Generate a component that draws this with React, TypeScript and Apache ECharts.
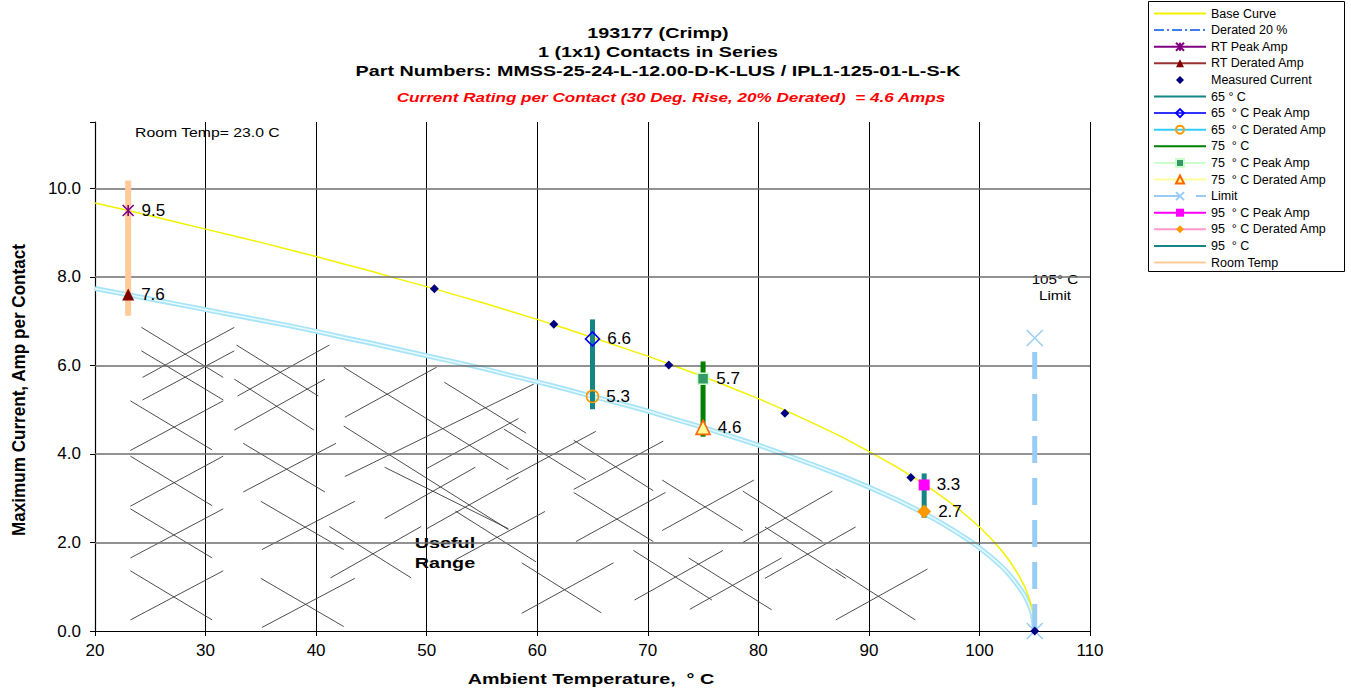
import React, { useEffect, useRef } from "react";
import * as echarts from "echarts";

const FONT = "'Liberation Sans', Arial, Helvetica, sans-serif";

// ---- data ----
const curveTemps = [20, 22.5, 25, 27.5, 30, 32.5, 35, 37.5, 40, 42.5, 45, 47.5, 50, 52.5, 55, 57.5, 60, 62.5, 65, 67.5, 70, 72.5, 75, 77.5, 80, 82.5, 85, 87.5, 90, 92.5, 95, 96.5, 98, 99, 100, 101, 102, 102.5, 103, 103.5, 104, 104.2, 104.5, 104.8, 105];
const baseCurve = [9.67, 9.53, 9.38, 9.23, 9.08, 8.93, 8.78, 8.62, 8.46, 8.29, 8.13, 7.95, 7.78, 7.6, 7.42, 7.23, 7.04, 6.84, 6.63, 6.42, 6.21, 5.98, 5.75, 5.5, 5.25, 4.98, 4.69, 4.39, 4.06, 3.71, 3.32, 3.06, 2.78, 2.57, 2.35, 2.1, 1.82, 1.66, 1.48, 1.28, 1.05, 0.94, 0.74, 0.47, 0];
const deratedCurve = [7.74, 7.62, 7.5, 7.38, 7.26, 7.14, 7.02, 6.9, 6.77, 6.63, 6.5, 6.36, 6.22, 6.08, 5.94, 5.78, 5.63, 5.47, 5.3, 5.14, 4.97, 4.78, 4.6, 4.4, 4.2, 3.98, 3.75, 3.51, 3.25, 2.97, 2.66, 2.45, 2.22, 2.06, 1.88, 1.68, 1.46, 1.33, 1.18, 1.02, 0.84, 0.75, 0.59, 0.38, 0];

const measuredTemps = [50.7, 61.5, 71.9, 82.4, 93.8, 105];
const measuredAmps = [7.73, 6.93, 6.01, 4.92, 3.47, 0];

const roomTemp = 23;
const roomRange = [7.12, 10.18];
const rtPeak = 9.5;
const rtDerated = 7.6;

const range65 = [5.01, 7.04];
const peak65 = 6.6;
const derated65 = 5.3;

const range75 = [4.39, 6.09];
const peak75 = 5.7;
const derated75 = 4.6;

const range95 = [2.56, 3.56];
const peak95 = 3.3;
const derated95 = 2.7;

const limitTemp = 105;
const limitRange = [0, 6.62];

const xTicks = { min: 20, max: 110, interval: 10 };
const yTicks = { min: 0, max: 11.5, interval: 2 };
const yGridLines = [2, 4, 6, 8, 10];

// "Useful Range" hatch strokes: [temp1, amp1, temp2, amp2]
const hatchSegments = [
  [24.2, 6.86, 31.6, 5.73], [24.3, 5.73, 32.6, 6.86],
  [24.2, 6.33, 31.6, 5.22], [24.3, 5.22, 32.6, 6.33],
  [23.2, 5.2, 30.6, 4.09], [23.2, 4.08, 31.6, 5.2],
  [23.2, 3.95, 30.6, 2.83], [23.2, 2.82, 31.6, 3.95],
  [23.2, 2.76, 30.6, 1.65], [23.2, 1.65, 31.6, 2.76],
  [23.2, 1.36, 30.6, 0.25], [23.2, 0.25, 31.6, 1.36],
  [32.8, 6.46, 40.2, 5.31], [32.9, 5.31, 41.2, 6.46],
  [32.6, 5.69, 39.8, 4.54], [32.6, 4.54, 40.8, 5.69],
  [33.4, 4.24, 40.8, 3.14], [33.4, 3.14, 41.8, 4.24],
  [35.0, 2.93, 42.5, 1.84], [35.1, 1.84, 43.5, 2.93],
  [35.0, 1.19, 42.5, 0.1], [35.1, 0.08, 43.5, 1.19],
  [42.5, 5.96, 57.4, 3.65], [42.6, 4.83, 50.9, 5.96],
  [42.5, 4.63, 57.4, 2.29], [42.6, 3.49, 59.7, 5.58],
  [51.6, 5.62, 59.0, 4.47], [50.0, 3.67, 58.3, 4.8],
  [46.2, 3.7, 57.4, 2.31], [46.2, 2.54, 54.4, 3.7],
  [50.0, 2.31, 58.3, 3.47], [52.6, 2.71, 59.9, 1.56],
  [57.0, 4.56, 64.4, 3.42], [57.2, 3.42, 65.3, 4.51],
  [63.3, 4.31, 70.5, 3.17], [63.3, 3.2, 71.4, 4.29],
  [63.3, 3.13, 70.5, 2.02], [63.5, 2.02, 71.6, 3.13],
  [41.2, 2.36, 48.6, 1.2], [41.3, 1.2, 49.5, 2.36],
  [52.6, 1.61, 60.7, 2.7],
  [58.6, 1.54, 65.8, 0.41], [58.6, 0.4, 66.9, 1.54],
  [71.3, 3.41, 78.6, 2.27], [71.3, 2.27, 79.6, 3.41],
  [78.6, 3.16, 85.8, 2.02], [78.6, 2.0, 86.7, 3.16],
  [80.6, 2.35, 87.9, 1.19], [80.6, 1.19, 88.8, 2.35],
  [68.7, 1.82, 75.8, 0.7], [68.8, 0.7, 76.8, 1.82],
  [73.7, 1.65, 81.2, 0.48], [73.8, 0.49, 82.1, 1.65],
  [87.0, 1.4, 94.2, 0.25], [87.0, 0.25, 95.3, 1.4],
];

const legendNames = [
  "Base Curve",
  "Derated 20 %",
  "RT Peak Amp",
  "RT Derated Amp",
  "Measured Current",
  "65 ° C",
  "65  ° C Peak Amp",
  "65  ° C Derated Amp",
  "75  ° C",
  "75  ° C Peak Amp",
  "75  ° C Derated Amp",
  "Limit",
  "95  ° C Peak Amp",
  "95  ° C Derated Amp",
  "95  ° C",
  "Room Temp",
];

const titleLines = [
  "193177 (Crimp)",
  "1 (1x1) Contacts in Series",
  "Part Numbers: MMSS-25-24-L-12.00-D-K-LUS / IPL1-125-01-L-S-K",
];
const subTitle = "Current Rating per Contact (30 Deg. Rise, 20% Derated)  = 4.6 Amps";

const ASTERISK = "path://M0 0L10 10M10 0L0 10M5 0L5 10";
const XMARK = "path://M0 0L10 10M10 0L0 10";

const curve = (vals: number[]) => curveTemps.map((t, i) => [t, vals[i]]);
const HIDDEN_ITEM = { color: "rgba(0,0,0,0)", opacity: 0 };

const pointLabel = {
  show: true,
  position: "right",
  distance: 7,
  fontSize: 17,
  color: "#000",
  fontFamily: FONT,
  formatter: (p: any) => Number(p.value[1]).toFixed(1),
};

function pointSeries(name: string, x: number, y: number, lineColor: string, symbol: string, size: number, itemStyle: any, lineWidth = 1) {
  return {
    name,
    type: "line",
    data: [[x, y]],
    symbol,
    symbolSize: size,
    showSymbol: true,
    lineStyle: { color: lineColor, width: lineWidth },
    itemStyle,
    label: pointLabel,
    z: 10,
  };
}

function barSeries(name: string, x: number, range: number[], color: string, width: number) {
  return {
    name,
    type: "line",
    data: [[x, range[0]], [x, range[1]]],
    symbol: "none",
    lineStyle: { color, width, cap: "butt" },
    itemStyle: HIDDEN_ITEM,
    z: 5,
  };
}

function curveSeries(name: string, vals: number[], lineStyle: any, z: number) {
  return {
    name,
    type: "line",
    data: curve(vals),
    symbol: "none",
    smooth: false,
    lineStyle,
    itemStyle: HIDDEN_ITEM,
    silent: true,
    z,
  };
}

function text(x: number, y: number, t: string, fontSize: number, extra: any = {}, scaleX = 1.315, align = "center") {
  return {
    type: "text",
    x,
    y,
    scaleX,
    silent: true,
    style: { text: t, fontSize, fontFamily: FONT, fill: "#000", align, verticalAlign: "middle", ...extra },
  };
}

function buildOption() {
  return {
    animation: false,
    backgroundColor: "#fff",
    textStyle: { fontFamily: FONT },
    grid: { left: 95, right: 261, top: 122, bottom: 60, containLabel: false },
    xAxis: {
      type: "value",
      min: xTicks.min,
      max: xTicks.max,
      interval: xTicks.interval,
      axisLine: { show: true, onZero: false, lineStyle: { color: "#000", width: 1.2 } },
      axisTick: { show: true, length: 5, lineStyle: { color: "#000" } },
      axisLabel: { fontSize: 17, color: "#000", margin: 11, fontFamily: FONT },
      splitLine: { show: true, lineStyle: { color: "#000", width: 1 } },
    },
    yAxis: {
      type: "value",
      min: yTicks.min,
      max: yTicks.max,
      interval: yTicks.interval,
      axisLine: { show: true, onZero: false, lineStyle: { color: "#000", width: 1.2 } },
      axisTick: { show: true, length: 5, lineStyle: { color: "#000" } },
      axisLabel: {
        fontSize: 17,
        color: "#000",
        margin: 14,
        fontFamily: FONT,
        formatter: (v: number) => (v > 10.5 ? "" : v.toFixed(1)),
      },
      splitLine: { show: false },
    },
    legend: {
      orient: "vertical",
      left: 1153,
      top: 7,
      padding: 0,
      itemWidth: 52,
      itemHeight: 10,
      itemGap: 3.6,
      selectedMode: false,
      data: legendNames,
      textStyle: { fontSize: 12.5, color: "#000", fontFamily: FONT, lineHeight: 12 },
    },
    graphic: [
      { type: "rect", shape: { x: 1148.5, y: 1.5, width: 196, height: 270 }, style: { fill: "none", stroke: "#000", lineWidth: 1 }, silent: true },
      ...titleLines.map((t, i) => text(658, 33 + i * 18.7, t, 15, { fontWeight: "bold" })),
      text(671, 97, subTitle, 13, { fontWeight: "bold", fontStyle: "italic", fill: "#ff0000" }),
      text(135, 133, "Room Temp= 23.0 C", 12, {}, 1.315, "left"),
      text(1055, 280, "105° C", 12, {}, 1.27),
      text(1055, 296, "Limit", 12, {}, 1.27),
      text(445, 543, "Useful", 15, { fontWeight: "bold" }),
      text(445, 563, "Range", 15, { fontWeight: "bold" }),
      text(591, 679, "Ambient Temperature,  ° C", 15, { fontWeight: "bold" }),
      {
        type: "text",
        x: 19,
        y: 390,
        rotation: Math.PI / 2,
        scaleX: 1.14,
        scaleY: 1.25,
        silent: true,
        style: { text: "Maximum Current, Amp per Contact", fontSize: 15, fontWeight: "bold", fontFamily: FONT, fill: "#000", align: "center", verticalAlign: "middle" },
      },
    ],
    series: [
      {
        name: "hatch",
        type: "custom",
        silent: true,
        data: hatchSegments,
        encode: { x: [0, 2], y: [1, 3] },
        renderItem: (_params: any, api: any) => {
          const p1 = api.coord([api.value(0), api.value(1)]);
          const p2 = api.coord([api.value(2), api.value(3)]);
          return {
            type: "line",
            shape: { x1: p1[0], y1: p1[1], x2: p2[0], y2: p2[1] },
            style: { stroke: "#3a3a3a", lineWidth: 0.9 },
          };
        },
        z: 1,
      },
      {
        name: "__grid",
        type: "line",
        data: [],
        silent: true,
        markLine: {
          silent: true,
          symbol: ["none", "none"],
          label: { show: false },
          lineStyle: { color: "#6e6e6e", width: 1.5, type: "solid" },
          data: yGridLines.map((v) => ({ yAxis: v })),
        },
        z: 1,
      },
      curveSeries("Derated 20 %", deratedCurve, { color: "#3d7df0", width: 3, type: [10, 3, 2, 3] }, 3),
      curveSeries("__derOuter", deratedCurve, { color: "#a8e4f7", width: 5 }, 3),
      curveSeries("__derInner", deratedCurve, { color: "#e6faff", width: 1.5 }, 3),
      curveSeries("Base Curve", baseCurve, { color: "#f2f200", width: 1.5 }, 3),
      barSeries("Room Temp", roomTemp, roomRange, "#ffcc99", 6),
      barSeries("65 ° C", 65, range65, "#158585", 5),
      barSeries("75  ° C", 75, range75, "#008000", 5),
      barSeries("95  ° C", 95, range95, "#158585", 5),
      {
        name: "Limit",
        type: "line",
        data: [[limitTemp, limitRange[0]], [limitTemp, limitRange[1]]],
        symbol: XMARK,
        symbolSize: 16,
        showSymbol: true,
        lineStyle: { color: "#99ccf5", width: 5, type: [27, 15], cap: "butt" },
        itemStyle: { color: "#99ccf5", borderColor: "#99ccf5", borderWidth: 1.5 },
        z: 6,
      },
      {
        name: "Measured Current",
        type: "line",
        data: measuredTemps.map((t, i) => [t, measuredAmps[i]]),
        symbol: "diamond",
        symbolSize: 9,
        showSymbol: true,
        lineStyle: { width: 0, opacity: 0 },
        itemStyle: { color: "#000080" },
        z: 7,
      },
      pointSeries("RT Peak Amp", roomTemp, rtPeak, "#800080", ASTERISK, 11, { color: "#800080", borderColor: "#800080", borderWidth: 1.6 }),
      pointSeries("RT Derated Amp", roomTemp, rtDerated, "#993333", "triangle", 12, { color: "#800000" }),
      pointSeries("65  ° C Peak Amp", 65, peak65, "#3333ff", "diamond", 14, { color: "rgba(255,255,255,0)", borderColor: "#0000ff", borderWidth: 1.6 }),
      pointSeries("65  ° C Derated Amp", 65, derated65, "#33ccff", "circle", 12, { color: "rgba(255,255,255,0)", borderColor: "#ff9900", borderWidth: 1.6 }),
      pointSeries("75  ° C Peak Amp", 75, peak75, "#ccffcc", "rect", 11, { color: "#339966", borderColor: "#ccffcc", borderWidth: 1.5 }),
      pointSeries("75  ° C Derated Amp", 75, derated75, "#ffff99", "triangle", 14, { color: "#ffff99", borderColor: "#ff6600", borderWidth: 1.6 }),
      pointSeries("95  ° C Peak Amp", 95, peak95, "#ff00ff", "rect", 11, { color: "#ff00ff" }, 3),
      pointSeries("95  ° C Derated Amp", 95, derated95, "#ff99cc", "diamond", 14, { color: "#ff9900" }),
    ],
  };
}

export default function App() {
  const ref = useRef<HTMLDivElement>(null);
  useEffect(() => {
    if (!ref.current) return;
    const chart = echarts.init(ref.current, null, { renderer: "svg" });
    chart.setOption(buildOption() as any);
    return () => chart.dispose();
  }, []);
  return (
    <div
      ref={ref}
      style={{ position: "absolute", left: 0, top: 0, width: 1351, height: 691, background: "#fff" }}
    />
  );
}
